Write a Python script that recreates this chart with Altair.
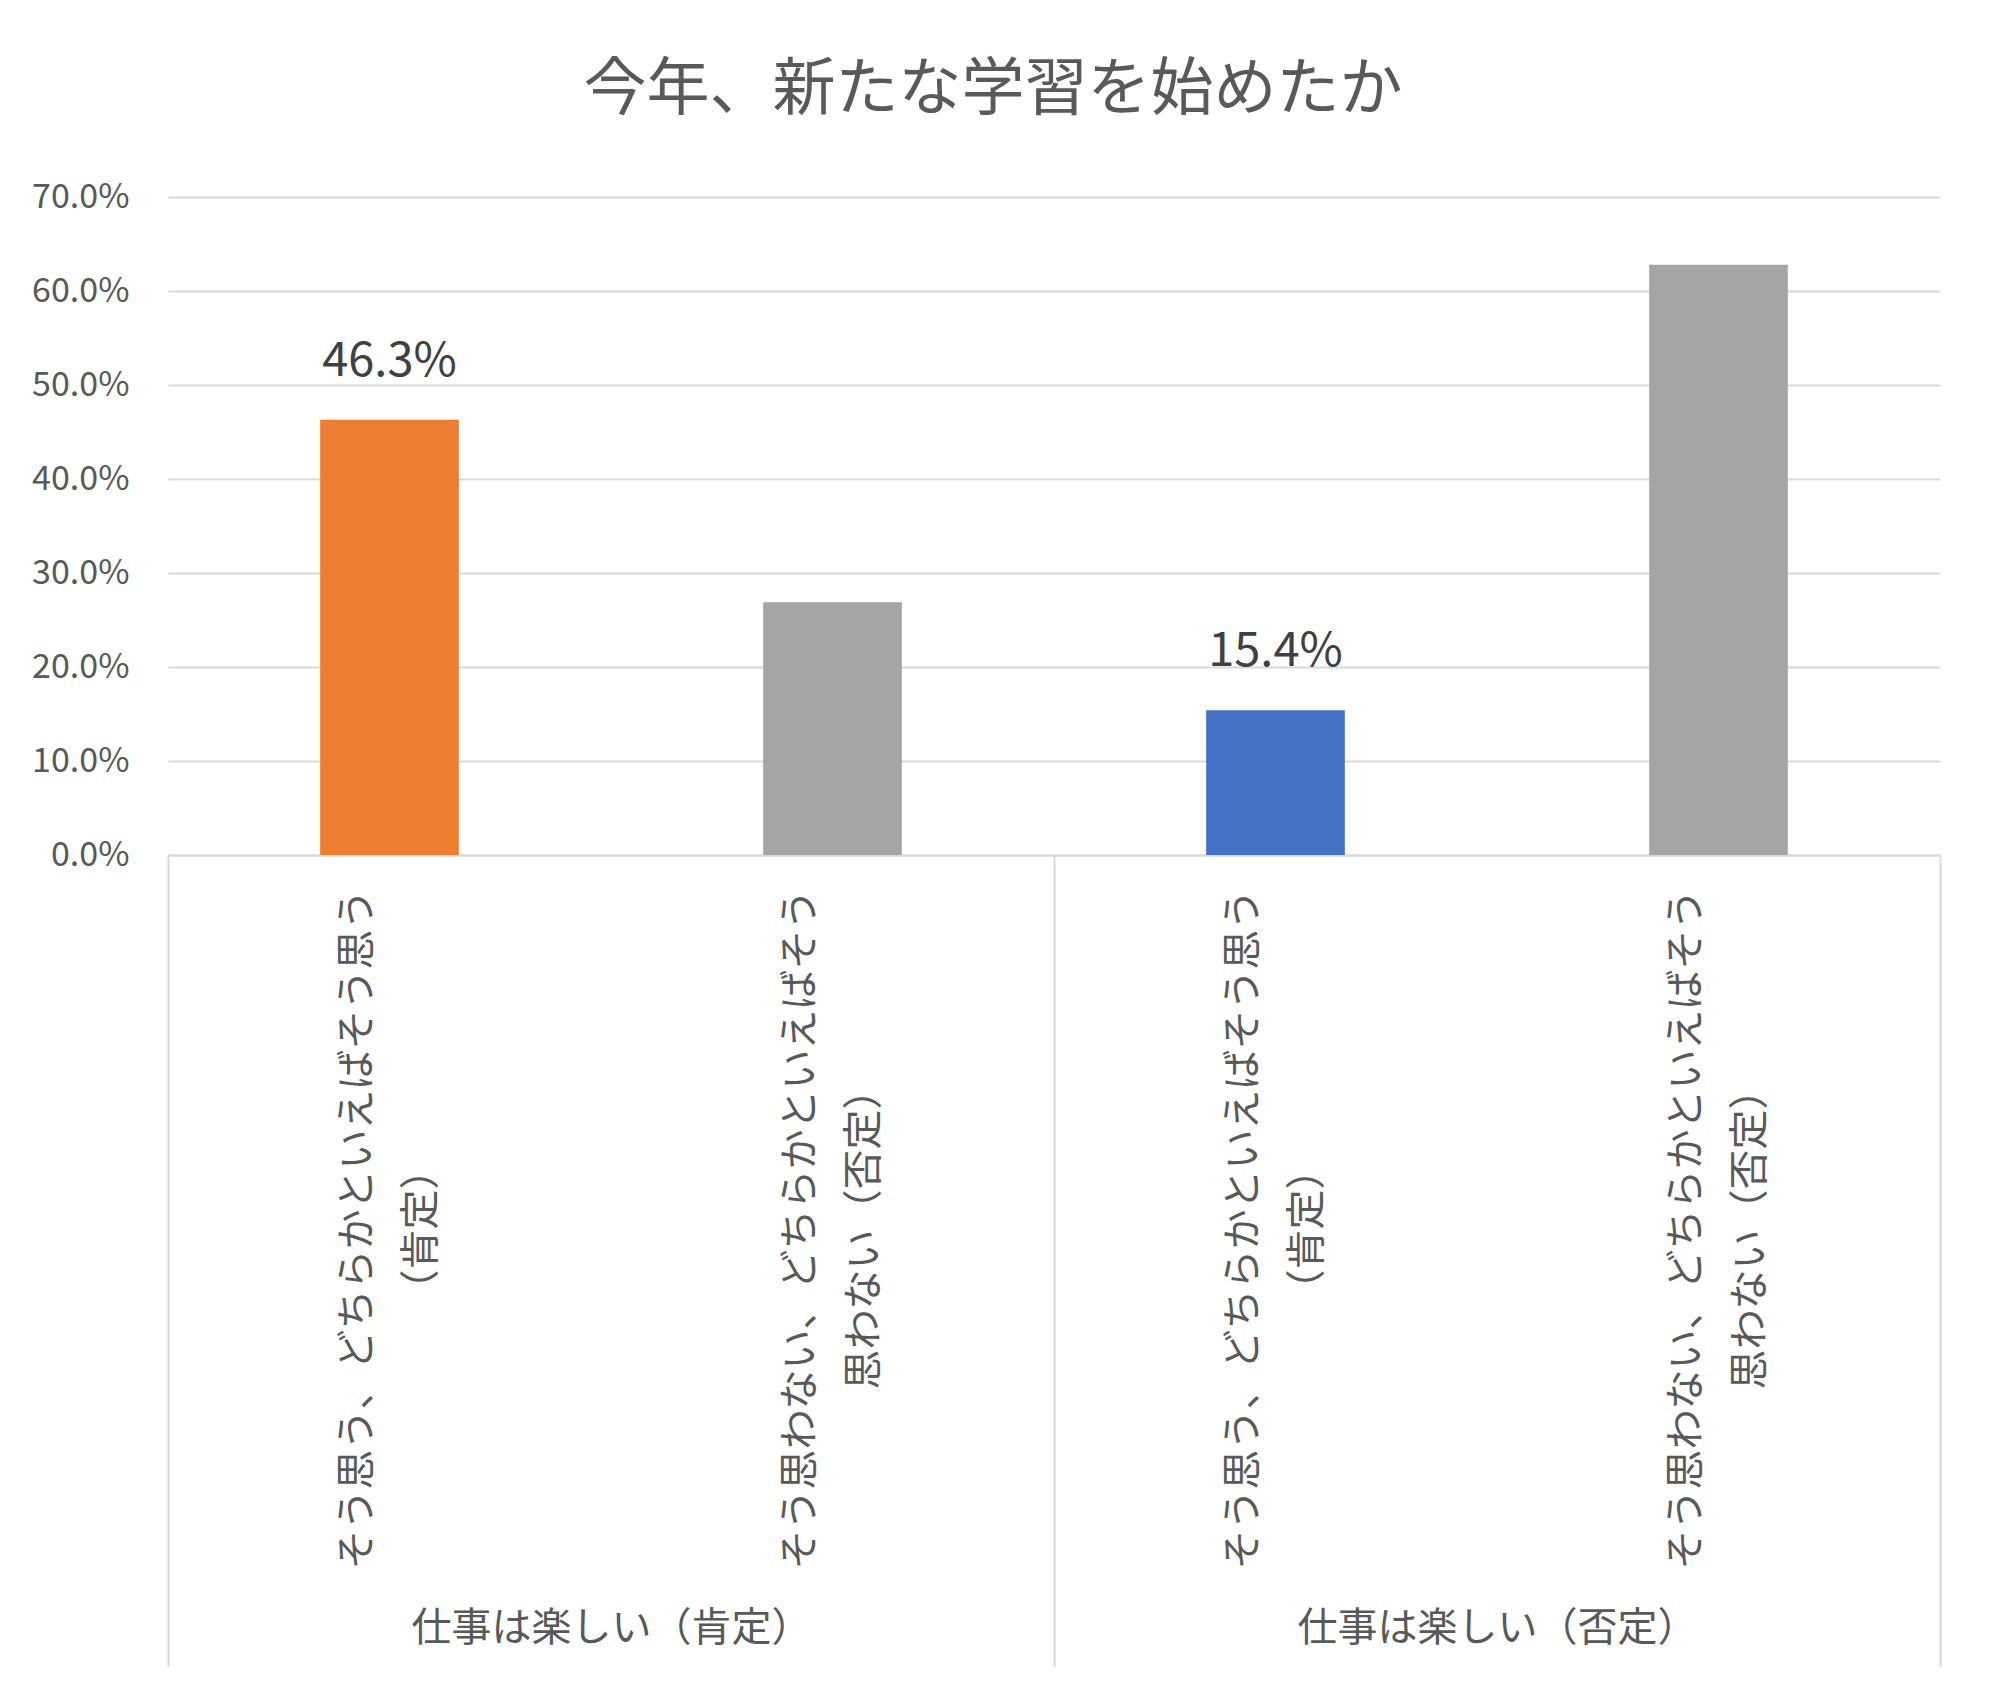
import altair as alt
import pandas as pd

title_text = "今年、新たな学習を始めたか"
groups = ["仕事は楽しい（肯定）", "仕事は楽しい（肯定）", "仕事は楽しい（否定）", "仕事は楽しい（否定）"]
answers = [
    "そう思う、どちらかといえばそう思う\n（肯定）",
    "そう思わない、どちらかといえばそう\n思わない（否定）",
    "そう思う、どちらかといえばそう思う\n（肯定）",
    "そう思わない、どちらかといえばそう\n思わない（否定）",
]
values = [0.463, 0.269, 0.154, 0.628]
colors = ["#ED7D31", "#A5A5A5", "#4472C4", "#A5A5A5"]
show_label = [True, False, True, False]
group_names = ["仕事は楽しい（肯定）", "仕事は楽しい（否定）"]
y_ticks = [0.0, 0.1, 0.2, 0.3, 0.4, 0.5, 0.6, 0.7]

FONT = "Noto Sans CJK JP"
TXT = "#595959"
GRID = "#d9d9d9"

df = pd.DataFrame({
    "key": [f"{i}|{a}" for i, a in enumerate(answers)],
    "group": groups,
    "value": values,
    "color": colors,
    "show": show_label,
})
gdf = pd.DataFrame({"group": group_names})

x_cat = alt.X(
    "key:N",
    sort=None,
    scale=alt.Scale(paddingInner=0, paddingOuter=0),
    axis=alt.Axis(
        title=None,
        labelExpr="split(split(datum.label, '|')[1], '\\n')",
        labelAngle=270,
        labelAlign="center",
        labelBaseline="middle",
        labelPadding=374,
        labelOffset=-32,
        labelFontSize=40,
        labelLineHeight=64,
        labelFont=FONT,
        labelColor=TXT,
        labelLimit=2000,
        labelOverlap=False,
        ticks=False,
        domain=True,
        domainColor=GRID,
        domainWidth=2,
        grid=False,
    ),
)

y_enc = alt.Y(
    "value:Q",
    scale=alt.Scale(domain=[0, 0.7], nice=False),
    axis=alt.Axis(
        title=None,
        values=y_ticks,
        format=".1%",
        labelFontSize=34,
        labelFont=FONT,
        labelColor=TXT,
        labelPadding=39,
        ticks=False,
        domain=False,
        grid=True,
        gridColor=GRID,
        gridWidth=2,
    ),
)

bars = alt.Chart(df).mark_bar(width=alt.RelativeBandSize(0.313)).encode(
    x=x_cat,
    y=y_enc,
    color=alt.Color("color:N", scale=None, legend=None),
)

labels = alt.Chart(df).transform_filter("datum.show").mark_text(
    baseline="alphabetic", dy=-44, fontSize=47, font=FONT, color="#404040"
).encode(
    x=alt.X("key:N", sort=None),
    y=alt.Y("value:Q"),
    text=alt.Text("value:Q", format=".1%"),
)

inner = alt.layer(bars, labels)

group_layer = alt.Chart(gdf).mark_point(opacity=0).encode(
    x=alt.X(
        "group:N",
        sort=None,
        scale=alt.Scale(type="band", paddingInner=0, paddingOuter=0),
        axis=alt.Axis(
            title=None,
            orient="bottom",
            offset=0,
            labelAngle=0,
            labelFontSize=40,
            labelFont=FONT,
            labelColor=TXT,
            labelBaseline="middle",
            labelPadding=-38,
            labelLimit=2000,
            domain=False,
            ticks=True,
            tickBand="extent",
            tickSize=811,
            tickColor=GRID,
            tickWidth=2,
            grid=False,
        ),
    ),
)

chart = alt.layer(inner, group_layer).resolve_scale(x="independent").properties(
    width=1772,
    height=658,
    title=alt.TitleParams(
        text=title_text,
        fontSize=63,
        font=FONT,
        fontWeight="normal",
        color=TXT,
        anchor="middle",
        offset=58,
        dx=-61,
    ),
    padding={"left": 23, "top": 51, "right": 40, "bottom": 10},
).configure_view(stroke=None)

chart.save("out.html", embed_options={"renderer": "svg", "actions": False})
